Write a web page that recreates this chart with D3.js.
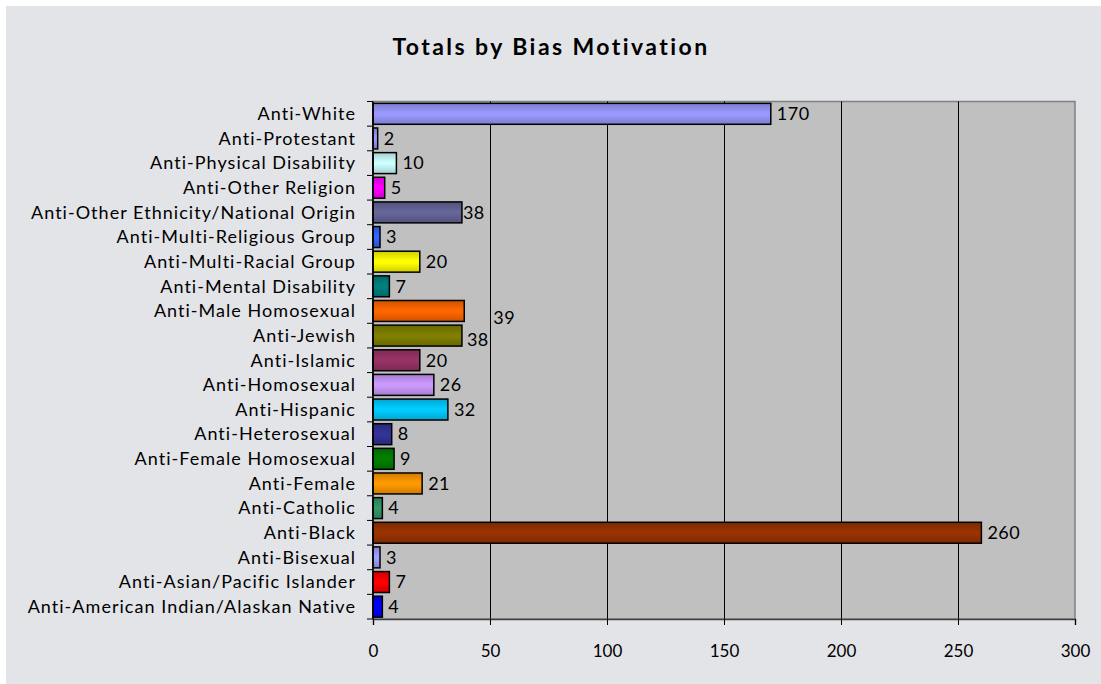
<!DOCTYPE html>
<html><head><meta charset="utf-8">
<script src="https://cdn.jsdelivr.net/npm/d3@7"></script>
<style>body{margin:0;background:#fff}text{font-family:Lato,"Open Sans",sans-serif;fill:#000}</style>
</head><body>
<svg id="c" width="1101" height="684"></svg>
<script>
const title = "Totals by Bias Motivation";
const categories = [
  "Anti-White","Anti-Protestant","Anti-Physical Disability","Anti-Other Religion",
  "Anti-Other Ethnicity/National Origin","Anti-Multi-Religious Group","Anti-Multi-Racial Group",
  "Anti-Mental Disability","Anti-Male Homosexual","Anti-Jewish","Anti-Islamic","Anti-Homosexual",
  "Anti-Hispanic","Anti-Heterosexual","Anti-Female Homosexual","Anti-Female","Anti-Catholic",
  "Anti-Black","Anti-Bisexual","Anti-Asian/Pacific Islander","Anti-American Indian/Alaskan Native"
];
const values = [170,2,10,5,38,3,20,7,39,38,20,26,32,8,9,21,4,260,3,7,4];
const colors = [
  "#9999ff","#9999ff","#ccffff","#ff00ff","#666699","#3366ff","#ffff00","#008080","#ff6600",
  "#808000","#993366","#cc99ff","#00ccff","#333399","#008000","#ff9900","#339966","#993300",
  "#a0a0ff","#ff0000","#0000ff"
];
const xTicks = [0,50,100,150,200,250,300];

(function(){
const svg = d3.select("#c");
svg.append("rect").attr("x",6).attr("y",6).attr("width",1095).attr("height",678).attr("fill","#e3e4e8");

const pL = 373, pR = 1075, pT = 101.5, pB = 619;
const x = d3.scaleLinear().domain([0,300]).range([pL,pR]);
const y = d3.scaleBand().domain(categories).range([pT,pB]).paddingInner(0.15).paddingOuter(0.075);

svg.append("rect").attr("x",pL).attr("y",pT).attr("width",pR-pL).attr("height",pB-pT)
  .attr("fill","#c0c0c0").attr("stroke","#808080").attr("stroke-width",1.5);

svg.append("g").selectAll("line").data(xTicks.filter(t=>t>0 && t<300)).join("line")
  .attr("x1",d=>Math.round(x(d))+0.5).attr("x2",d=>Math.round(x(d))+0.5)
  .attr("y1",pT).attr("y2",pB).attr("stroke","#000").attr("stroke-width",1);

const defs = svg.append("defs");
colors.forEach((c,i)=>{
  const g = defs.append("linearGradient").attr("id","g"+i).attr("x1",0).attr("y1",0).attr("x2",0).attr("y2",1);
  const dark = d3.color(c).darker(0.6);
  g.append("stop").attr("offset","0%").attr("stop-color",dark);
  g.append("stop").attr("offset","45%").attr("stop-color",c);
  g.append("stop").attr("offset","55%").attr("stop-color",c);
  g.append("stop").attr("offset","100%").attr("stop-color",dark);
});

svg.append("g").selectAll("rect").data(categories).join("rect")
  .attr("x",x(0)).attr("y",d=>y(d)).attr("height",y.bandwidth())
  .attr("width",(d,i)=>x(values[i])-x(0))
  .attr("fill",(d,i)=>"url(#g"+i+")").attr("stroke","#000").attr("stroke-width",1.5);

const xa = svg.append("g").attr("transform",`translate(0,${pB})`)
  .call(d3.axisBottom(x).tickValues(xTicks).tickSize(6).tickPadding(20).tickFormat(d3.format("d")));
xa.select(".domain").attr("stroke","#404040").attr("stroke-width",1.5);
xa.selectAll(".tick line").attr("stroke","#000");
xa.selectAll("text").attr("font-size",17).attr("font-family","Lato").attr("fill","#000");

const step = y.step();
const bounds = categories.map(c=>y(c)-step*y.paddingInner()/2).concat([pB]);
svg.append("g").selectAll("line").data(bounds).join("line")
  .attr("x1",pL-6).attr("x2",pL).attr("y1",d=>d).attr("y2",d=>d).attr("stroke","#000");
svg.append("line").attr("x1",pL).attr("x2",pL).attr("y1",pT).attr("y2",pB).attr("stroke","#000").attr("stroke-width",1.5);

const cl = svg.append("g").selectAll("text").data(categories).join("text")
  .attr("x",pL-17).attr("y",d=>y(d)+y.bandwidth()/2).attr("dy","0.35em")
  .attr("text-anchor","end").attr("font-size",18).text(d=>d);
const longest = cl.nodes()[categories.length-1];
const w0 = longest.getComputedTextLength();
const ls = Math.max(0,(329 - w0)/categories[categories.length-1].length);
cl.style("letter-spacing", ls+"px");

const labelAdjust = {"Anti-Other Ethnicity/National Origin":[-5,0],"Anti-Male Homosexual":[23,7],"Anti-Jewish":[-1,4]};
svg.append("g").selectAll("text").data(categories).join("text")
  .attr("x",(d,i)=>x(values[i])+6+(labelAdjust[d]?labelAdjust[d][0]:0))
  .attr("y",(d,i)=>y(d)+y.bandwidth()/2+(labelAdjust[d]?labelAdjust[d][1]:0))
  .attr("dy","0.35em").attr("font-size",18).style("letter-spacing","0.5px")
  .text((d,i)=>values[i]);

const t = svg.append("text").attr("x",551).attr("y",47).attr("dy","0.35em").attr("text-anchor","middle")
  .attr("font-size",23).attr("font-weight","bold").text(title);
const tw = t.node().getComputedTextLength();
t.style("letter-spacing",Math.max(0,(318-tw)/title.length)+"px");
})();
</script>
</body></html>
